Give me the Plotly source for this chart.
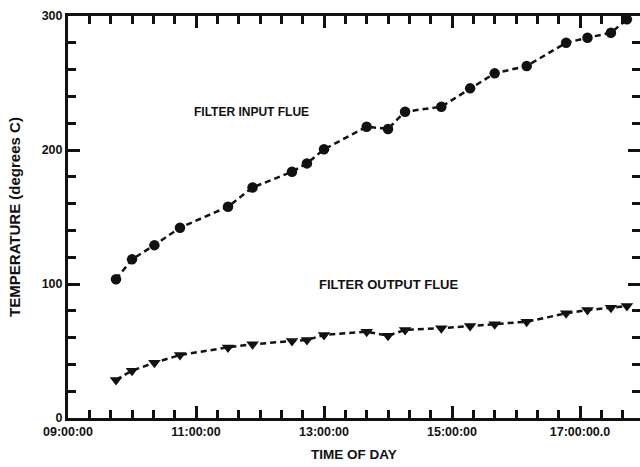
import plotly.graph_objects as go

day = "2024-01-01 "
times = ["09:45", "10:00", "10:21", "10:45", "11:30", "11:53", "12:30", "12:44", "13:00", "13:40",
         "14:00", "14:16", "14:50", "15:17", "15:40", "16:10", "16:47", "17:07", "17:29", "17:44"]
input_flue = [103.5, 118.4, 129, 142, 157.7, 172, 183.8, 190, 200.5, 217.4,
              215.7, 228.6, 232.3, 246, 257.2, 262.7, 280, 283.8, 287.5, 297.5]
output_flue = [28.4, 35.3, 41.3, 47, 52.7, 55, 57.5, 58.2, 62, 64.4,
               61.4, 65.7, 67, 68.7, 69.9, 71.9, 78.1, 80.6, 82.3, 83.6]

x_tick_times = ["09:00", "11:00", "13:00", "15:00", "17:00"]
x_tick_text = ["09:00:00", "11:00:00", "13:00:00", "15:00:00", "17:00:00.0"]
y_ticks = [0, 100, 200, 300]

xs = [day + t for t in times]
FONT = "Liberation Sans, Arial, Helvetica, sans-serif"
INK = "#111111"

fig = go.Figure()
fig.add_trace(go.Scatter(
    x=xs, y=input_flue, mode="lines+markers", name="FILTER INPUT FLUE",
    line=dict(color=INK, width=2.5, dash="6px,4px"),
    marker=dict(symbol="circle", size=10.5, color=INK),
    cliponaxis=False, showlegend=False))
fig.add_trace(go.Scatter(
    x=xs, y=output_flue, mode="lines+markers", name="FILTER OUTPUT FLUE",
    line=dict(color=INK, width=2.5, dash="6px,4px"),
    marker=dict(symbol="triangle-down", size=11, color=INK),
    cliponaxis=False, showlegend=False))

fig.add_annotation(x=day + "11:52", y=228, text="FILTER INPUT FLUE", showarrow=False,
                   font=dict(family=FONT, size=12, color=INK, weight="bold"))
fig.add_annotation(x=day + "14:00", y=100, text="FILTER OUTPUT FLUE", showarrow=False,
                   font=dict(family=FONT, size=13, color=INK, weight="bold"))

fig.update_layout(
    width=640, height=467,
    margin=dict(l=68, r=0, t=16, b=49, autoexpand=False),
    paper_bgcolor="white", plot_bgcolor="white",
    font=dict(family=FONT, color=INK),
)
fig.update_xaxes(
    type="date",
    range=[day + "09:00", day + "17:56:15"],
    tickmode="array",
    tickvals=[day + t for t in x_tick_times], ticktext=x_tick_text,
    ticks="inside", ticklen=12, tickwidth=2.5, tickcolor=INK,
    minor=dict(dtick=20 * 60 * 1000, ticks="inside", ticklen=8, tickwidth=2.5, tickcolor=INK),
    showline=True, linewidth=3, linecolor=INK, mirror="ticks",
    showgrid=False, zeroline=False, automargin=False,
    tickfont=dict(family=FONT, size=12.5, color=INK, weight="bold"),
    title=dict(text="TIME OF DAY", font=dict(family=FONT, size=13.5, color=INK, weight="bold"), standoff=12),
)
fig.update_yaxes(
    range=[0, 300],
    tickmode="array",
    tickvals=y_ticks,
    ticks="inside", ticklen=12, tickwidth=2.5, tickcolor=INK,
    minor=dict(dtick=20, tick0=0, ticks="inside", ticklen=8, tickwidth=2.5, tickcolor=INK),
    showline=True, linewidth=3, linecolor=INK, mirror="ticks",
    showgrid=False, zeroline=False, automargin=False,
    tickfont=dict(family=FONT, size=12.5, color=INK, weight="bold"),
    title=dict(text="TEMPERATURE (degrees C)", font=dict(family=FONT, size=15, color=INK, weight="bold"), standoff=18),
)

fig.write_html("out.html")
